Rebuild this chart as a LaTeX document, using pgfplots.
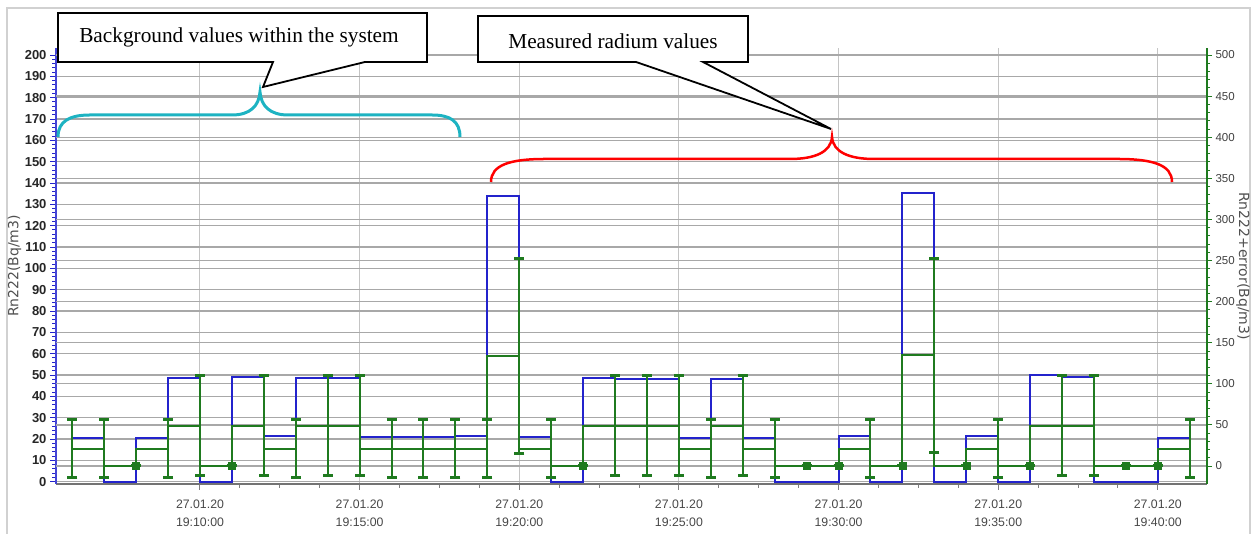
\documentclass[border=0pt]{standalone}
\usepackage{pgfplots}
\pgfplotsset{compat=1.18}
\usepackage{fontspec}
\setmainfont{Liberation Sans}
\newfontfamily\seriffont{Liberation Serif}
\newfontfamily\labfont{DejaVu Sans}
\definecolor{bline}{HTML}{2323CC}
\definecolor{gline}{HTML}{1F7A1F}
\definecolor{gridc}{HTML}{A8A8A8}
\definecolor{vgrid}{HTML}{C4C4C4}
\definecolor{cyanb}{HTML}{1DB3C2}
\definecolor{txtg}{HTML}{505050}
\pgfplotsset{
 base/.style={scale only axis, width=1151pt, height=436pt, at={(56pt,50pt)}, anchor=south west,
   xmin=5.49, xmax=41.54, /pgf/number format/assume math mode=true},
 leftscale/.style={ymin=-1.08, ymax=203.3},
 rightscale/.style={ymin=-21.9, ymax=508.5},
}
\begin{document}
\begin{tikzpicture}
\path[use as bounding box] (0,0) rectangle (1255pt,534pt);
\begin{scope}[x=1pt,y=-1pt,yshift=534pt]
 \draw[color=black!18, line width=1.5pt] (7,540) -- (7,8) -- (1250,8) -- (1250,540);
\end{scope}
% left axis: decorations and grid
\begin{axis}[base, leftscale,
 axis x line*=bottom, axis y line*=left,
 x axis line style={line width=2.5pt, color=black!55},
 y axis line style={line width=2.5pt, color=bline!85},
 xtick={10,15,...,40},
 xticklabels={{27.01.20\\19:10:00},{27.01.20\\19:15:00},{27.01.20\\19:20:00},{27.01.20\\19:25:00},{27.01.20\\19:30:00},{27.01.20\\19:35:00},{27.01.20\\19:40:00}},
 minor x tick num=3,
 ytick={0,10,...,200},
 minor y tick num=4,
 tick align=outside,
 major tick length=6pt, minor tick length=4pt,
 xtick style={color=black!50, line width=1pt},
 ytick style={color=bline, line width=1pt},
 xmajorgrids, ymajorgrids,
 x grid style={color=vgrid, line width=1pt},
 y grid style={color=gridc, line width=1.3pt},
 xticklabel style={align=center, font=\fontsize{12.3}{18.5}\selectfont, text=black!72, yshift=-6pt},
 yticklabel style={font=\fontsize{13}{15}\selectfont\bfseries, text=black!85},
 ylabel={Rn222(Bq/m3)},
 ylabel style={at={(axis description cs:-0.0360,0.5)}, anchor=center, font=\labfont\fontsize{14}{16}\selectfont, text=txtg},
]
\end{axis}
% right axis: decorations and grid
\begin{axis}[base, rightscale, axis x line=none, axis y line*=right,
 y axis line style={line width=2pt, color=gline},
 ytick={0,50,...,500}, minor y tick num=4, tick align=outside,
 major tick length=5pt, minor tick length=3pt,
 ytick style={color=gline, line width=0.8pt},
 ymajorgrids, y grid style={color=gridc, line width=1.3pt},
 yticklabel style={font=\fontsize{11.5}{13}\selectfont, text=black!75},
 ylabel={Rn222+error(Bq/m3)},
 ylabel style={at={(axis description cs:1.0313,0.5)}, anchor=center, rotate=180, font=\labfont\fontsize{14}{16}\selectfont, text=txtg},
]
\end{axis}
% blue series (left scale)
\begin{axis}[base, leftscale, hide axis]
\addplot[const plot, color=bline, line width=2pt] coordinates {
(6,20.6)(7,0)(8,20.6)(9,48.6)(10,0)(11,49.2)(12,21.3)(13,48.6)(14,48.6)(15,20.8)(16,20.8)(17,20.8)(18,21.6)(19,134)(20,20.8)(21,0)(22,48.8)(23,48)(24,48)(25,20.6)(26,48)(27,20.6)(28,0)(29,0)(30,21.4)(31,0)(32,135.2)(33,0)(34,21.4)(35,0)(36,50)(37,49.2)(38,0)(39,0)(40,20.6)(41,20.6)};
\end{axis}
% green series with error bars (right scale)
\begin{axis}[base, rightscale, hide axis]
\addplot[const plot mark right, color=gline, line width=2pt,
  error bars/.cd, y dir=both, y explicit,
  error bar style={line width=2pt, color=gline},
  error mark=|, error mark options={color=gline, line width=3pt, mark size=5pt}]
 table[x=t, y=v, y error=e] {
t v e
6 21 35
7 21 35
8 0 0
9 21 35
10 49 61
11 0 0
12 49 61
13 21 35
14 49 61
15 49 61
16 21 35
17 21 35
18 21 35
19 21 35
20 134 119
21 21 35
22 0 0
23 49 61
24 49 61
25 49 61
26 21 35
27 49 61
28 21 35
29 0 0
30 0 0
31 21 35
32 0 0
33 135 118
34 0 0
35 21 35
36 0 0
37 49 61
38 49 61
39 0 0
40 0 0
41 21 35
};
% zero-width error bars appear as small blocks
\addplot[only marks, mark=square*, mark size=3.5pt, color=gline] coordinates {
(8,0)(11,0)(22,0)(29,0)(30,0)(32,0)(34,0)(36,0)(39,0)(40,0)};
\end{axis}
% annotations
\begin{scope}[x=1pt,y=-1pt,yshift=534pt]
 \draw[cyanb, line width=3pt] (58,137) .. controls (58,121) and (70,115) .. (90,115) -- (232,115)
   .. controls (250,115) and (259,106) .. (260,92) .. controls (261,106) and (270,115) .. (288,115)
   -- (432,115) .. controls (450,115) and (460,121) .. (460,137);
 \draw[red, line width=2.5pt] (491,182) .. controls (491,165) and (510,159) .. (545,159) -- (790,159)
   .. controls (815,159) and (831,152) .. (832,137) .. controls (833,152) and (849,159) .. (874,159)
   -- (1118,159) .. controls (1153,159) and (1172,165) .. (1172,182);
 \draw[fill=white, line width=1.8pt] (58,13) -- (427,13) -- (427,62) -- (365,62) -- (263,87) -- (273,62) -- (58,62) -- cycle;
 \node[font=\seriffont\fontsize{21.3}{25}\selectfont] at (239,37) {Background values within the system};
 \draw[fill=white, line width=1.8pt] (478,16) -- (748,16) -- (748,62) -- (703,62) -- (831,129) -- (636,62) -- (478,62) -- cycle;
 \node[font=\seriffont\fontsize{21.3}{25}\selectfont] at (613,41) {Measured radium values};
\end{scope}
\end{tikzpicture}
\end{document}
